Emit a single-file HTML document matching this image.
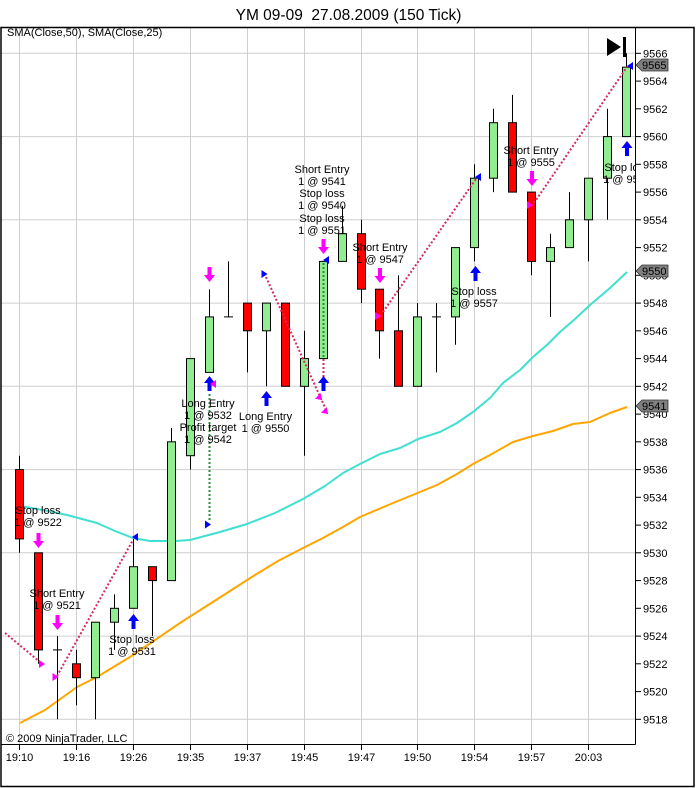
<!DOCTYPE html>
<html><head><meta charset="utf-8"><style>
html,body{margin:0;padding:0;background:#fff;}
svg{display:block;}
text{font-family:"Liberation Sans",Arial,sans-serif;fill:#000;}
.a{font-size:11px;}
.m{font-size:11px;text-anchor:middle;}
.t{white-space:pre;}
</style></head><body>
<svg width="697" height="788" viewBox="0 0 697 788" xmlns="http://www.w3.org/2000/svg">
<defs>
<path id="da" d="M-2,0 h4 v8 h3.5 l-5.5,7 l-5.5,-7 h3.5 z" fill="#ff00ff"/>
<path id="ua" d="M0,0 l5.5,7 h-3.5 v8 h-4 v-8 h-3.5 z" fill="#0000ff"/>
<path id="tl" d="M-3,0 l6,-4 v8 z"/>
<path id="tr" d="M3,0 l-6,-4 v8 z"/>
<clipPath id="pc"><rect x="1" y="27" width="634" height="717"/></clipPath>
</defs>
<rect width="697" height="788" fill="#fff"/>
<text class="t" x="348.5" y="20" font-size="15.5" text-anchor="middle" xml:space="preserve">YM 09-09  27.08.2009 (150 Tick)</text>
<!-- grid -->
<g stroke="#cfcfcf" stroke-width="1">
<line x1="1" x2="635" y1="53.3" y2="53.3"/><line x1="1" x2="635" y1="136.6" y2="136.6"/>
<line x1="1" x2="635" y1="219.8" y2="219.8"/><line x1="1" x2="635" y1="303.1" y2="303.1"/>
<line x1="1" x2="635" y1="386.3" y2="386.3"/><line x1="1" x2="635" y1="469.6" y2="469.6"/>
<line x1="1" x2="635" y1="552.8" y2="552.8"/><line x1="1" x2="635" y1="636.1" y2="636.1"/>
<line x1="1" x2="635" y1="719.3" y2="719.3"/>
<line x1="19.5" x2="19.5" y1="27" y2="744"/><line x1="76.5" x2="76.5" y1="27" y2="744"/>
<line x1="133.5" x2="133.5" y1="27" y2="744"/><line x1="190.5" x2="190.5" y1="27" y2="744"/>
<line x1="247.5" x2="247.5" y1="27" y2="744"/><line x1="304.5" x2="304.5" y1="27" y2="744"/>
<line x1="361.5" x2="361.5" y1="27" y2="744"/><line x1="417.5" x2="417.5" y1="27" y2="744"/>
<line x1="474.5" x2="474.5" y1="27" y2="744"/><line x1="531.5" x2="531.5" y1="27" y2="744"/>
<line x1="588.5" x2="588.5" y1="27" y2="744"/>
</g>
<text class="a" x="7" y="36">SMA(Close,50), SMA(Close,25)</text>
<!-- SMA lines -->
<g fill="none" stroke-width="2" stroke-linejoin="round" clip-path="url(#pc)">
<polyline stroke="#40e0d0" points="20,506 43,510 67,515 97,523 115,531 133,538 150,541 175,541 190,540 220,532 247,524 275,513 303,499 325,486 343,473 360,464 380,454 400,448 418,439 440,432 457,423 473,412 490,398 503,383 520,370 533,357 548,344 560,332 575,319 590,305 610,288 627,272"/>
<polyline stroke="#ffa500" points="20,723 45,710 77,687 97,677 130,657 155,640 180,623 205,607 230,591 255,575 278,561 303,548 323,538 343,527 360,517 393,503 420,492 437,485 457,474 473,464 490,455 513,442 533,436 553,431 573,424 590,422 610,413 627,407"/>
</g>
<!-- candles -->
<g stroke="#000" stroke-width="1">
<line x1="19.5" x2="19.5" y1="455.7" y2="552.8"/><rect x="15.5" y="469.6" width="8" height="69.3" fill="#ff0000"/>
<line x1="38.5" x2="38.5" y1="552.8" y2="663.8"/><rect x="34.5" y="552.8" width="8" height="97.1" fill="#ff0000"/>
<line x1="57.5" x2="57.5" y1="636.1" y2="719.3"/><line x1="53" x2="62" y1="649.9" y2="649.9"/>
<line x1="76.5" x2="76.5" y1="649.9" y2="705.4"/><rect x="72.5" y="663.8" width="8" height="13.9" fill="#ff0000"/>
<line x1="95.5" x2="95.5" y1="622.2" y2="719.3"/><rect x="91.5" y="622.2" width="8" height="55.5" fill="#90ee90"/>
<line x1="114.5" x2="114.5" y1="594.4" y2="649.9"/><rect x="110.5" y="608.3" width="8" height="13.9" fill="#90ee90"/>
<line x1="133.5" x2="133.5" y1="538.9" y2="608.3"/><rect x="129.5" y="566.7" width="8" height="41.6" fill="#90ee90"/>
<line x1="152.5" x2="152.5" y1="566.7" y2="636.1"/><rect x="148.5" y="566.7" width="8" height="13.9" fill="#ff0000"/>
<line x1="171.5" x2="171.5" y1="427.9" y2="580.6"/><rect x="167.5" y="441.8" width="8" height="138.8" fill="#90ee90"/>
<line x1="190.5" x2="190.5" y1="358.6" y2="469.6"/><rect x="186.5" y="358.6" width="8" height="97.1" fill="#90ee90"/>
<line x1="209.5" x2="209.5" y1="289.2" y2="372.4"/><rect x="205.5" y="316.9" width="8" height="55.5" fill="#90ee90"/>
<line x1="228.5" x2="228.5" y1="261.4" y2="316.9"/><line x1="224" x2="233" y1="316.9" y2="316.9"/>
<line x1="247.5" x2="247.5" y1="303.1" y2="372.4"/><rect x="243.5" y="303.1" width="8" height="27.7" fill="#ff0000"/>
<line x1="266.5" x2="266.5" y1="303.1" y2="386.3"/><rect x="262.5" y="303.1" width="8" height="27.7" fill="#90ee90"/>
<line x1="285.5" x2="285.5" y1="303.1" y2="386.3"/><rect x="281.5" y="303.1" width="8" height="83.2" fill="#ff0000"/>
<line x1="304.5" x2="304.5" y1="330.8" y2="455.7"/><rect x="300.5" y="358.6" width="8" height="27.7" fill="#90ee90"/>
<rect x="319.5" y="261.4" width="8" height="97.2" fill="#90ee90"/>
<line x1="342.5" x2="342.5" y1="205.9" y2="261.4"/><rect x="338.5" y="233.7" width="8" height="27.7" fill="#90ee90"/>
<line x1="361.5" x2="361.5" y1="219.8" y2="303.1"/><rect x="357.5" y="233.7" width="8" height="55.5" fill="#ff0000"/>
<line x1="379.5" x2="379.5" y1="289.2" y2="358.6"/><rect x="375.5" y="289.2" width="8" height="41.6" fill="#ff0000"/>
<line x1="398.5" x2="398.5" y1="275.3" y2="386.3"/><rect x="394.5" y="330.8" width="8" height="55.5" fill="#ff0000"/>
<line x1="417.5" x2="417.5" y1="303.1" y2="386.3"/><rect x="413.5" y="316.9" width="8" height="69.4" fill="#90ee90"/>
<line x1="436.5" x2="436.5" y1="303.1" y2="372.4"/><line x1="432" x2="441" y1="316.9" y2="316.9"/>
<line x1="455.5" x2="455.5" y1="247.6" y2="344.7"/><rect x="451.5" y="247.6" width="8" height="69.3" fill="#90ee90"/>
<line x1="474.5" x2="474.5" y1="164.3" y2="261.4"/><rect x="470.5" y="178.2" width="8" height="69.4" fill="#90ee90"/>
<line x1="493.5" x2="493.5" y1="108.8" y2="192.1"/><rect x="489.5" y="122.7" width="8" height="55.5" fill="#90ee90"/>
<line x1="512.5" x2="512.5" y1="94.9" y2="192.1"/><rect x="508.5" y="122.7" width="8" height="69.4" fill="#ff0000"/>
<line x1="531.5" x2="531.5" y1="192.1" y2="275.3"/><rect x="527.5" y="192.1" width="8" height="69.3" fill="#ff0000"/>
<line x1="550.5" x2="550.5" y1="233.7" y2="316.9"/><rect x="546.5" y="247.6" width="8" height="13.8" fill="#90ee90"/>
<line x1="569.5" x2="569.5" y1="192.1" y2="247.6"/><rect x="565.5" y="219.8" width="8" height="27.8" fill="#90ee90"/>
<line x1="588.5" x2="588.5" y1="178.2" y2="261.4"/><rect x="584.5" y="178.2" width="8" height="41.6" fill="#90ee90"/>
<line x1="607.5" x2="607.5" y1="108.8" y2="219.8"/><rect x="603.5" y="136.6" width="8" height="41.6" fill="#90ee90"/>
<line x1="626.5" x2="626.5" y1="53.3" y2="136.6"/><rect x="622.5" y="67.2" width="8" height="69.4" fill="#90ee90"/>
</g>
<!-- dotted trade lines -->
<g fill="none" stroke-width="2" stroke-dasharray="2 2">
<g stroke="#d42a5e">
<line x1="5" y1="633" x2="40" y2="662"/>
<line x1="57" y1="676" x2="133" y2="540"/>
<line x1="266" y1="277" x2="327" y2="412"/>
<line x1="323.5" y1="359" x2="323.5" y2="378"/>
<line x1="383" y1="312" x2="476" y2="179"/>
<line x1="534" y1="203" x2="627" y2="67"/>
</g>
<g stroke="#2e8b3a">
<line x1="209.5" y1="394" x2="209.5" y2="521"/>
<line x1="323.5" y1="263" x2="323.5" y2="357"/>
</g>
</g>
<!-- markers -->
<use href="#da" x="38.5" y="533"/>
<use href="#da" x="57.5" y="615"/>
<use href="#da" x="209.5" y="267"/>
<use href="#da" x="323.5" y="239"/>
<use href="#da" x="380" y="268"/>
<use href="#da" x="532" y="171"/>
<use href="#ua" x="133.5" y="614"/>
<use href="#ua" x="209.5" y="376"/>
<use href="#ua" x="266.5" y="391"/>
<use href="#ua" x="323.5" y="376"/>
<use href="#ua" x="475.5" y="266"/>
<use href="#ua" x="627" y="141"/>
<g fill="#ff00ff">
<use href="#tr" x="42" y="664"/>
<use href="#tr" x="55.5" y="677"/>
<use href="#tl" x="213" y="384"/>
<use href="#tr" transform="translate(320,398) rotate(45)"/>
<use href="#tr" transform="translate(326,412) rotate(45)"/>
<use href="#tr" x="378" y="316"/>
<use href="#tr" x="530" y="205"/>
</g>
<g fill="#0000ff">
<use href="#tl" x="135" y="537"/>
<use href="#tr" x="208" y="524.5"/>
<use href="#tr" x="264.5" y="274"/>
<use href="#tl" x="326" y="260"/>
<use href="#tl" x="478" y="177"/>
<use href="#tl" x="630" y="66"/>
</g>
<!-- annotation texts -->
<text class="m" x="38" y="514">Stop loss</text><text class="m" x="38" y="526">1 @ 9522</text>
<text class="m" x="57" y="597">Short Entry</text><text class="m" x="57" y="609">1 @ 9521</text>
<text class="m" x="132" y="643">Stop loss</text><text class="m" x="132" y="655">1 @ 9531</text>
<text class="m" x="208" y="407">Long Entry</text><text class="m" x="208" y="419">1 @ 9532</text>
<text class="m" x="208" y="431">Profit target</text><text class="m" x="208" y="443">1 @ 9542</text>
<text class="m" x="265.5" y="420">Long Entry</text><text class="m" x="265.5" y="432">1 @ 9550</text>
<text class="m" x="322" y="173">Short Entry</text><text class="m" x="322" y="185">1 @ 9541</text>
<text class="m" x="322" y="197">Stop loss</text><text class="m" x="322" y="209">1 @ 9540</text>
<text class="m" x="322" y="222">Stop loss</text><text class="m" x="322" y="234">1 @ 9551</text>
<text class="m" x="380" y="251">Short Entry</text><text class="m" x="380" y="263">1 @ 9547</text>
<text class="m" x="474" y="295">Stop loss</text><text class="m" x="474" y="307">1 @ 9557</text>
<text class="m" x="531" y="154">Short Entry</text><text class="m" x="531" y="166">1 @ 9555</text>
<g clip-path="url(#pc)"><text class="m" x="627" y="171">Stop loss</text><text class="m" x="627" y="183">1 @ 9560</text></g>
<!-- top right icon -->
<polygon points="607,38 621,47 607,56" fill="#000"/>
<rect x="623" y="37" width="3" height="20" fill="#000"/>
<text class="a" x="6" y="742">© 2009 NinjaTrader, LLC</text>
<!-- axes -->
<g stroke="#000" stroke-width="1">
<line x1="635.5" y1="27" x2="635.5" y2="744.5"/>
<line x1="1" y1="744.5" x2="635.5" y2="744.5"/>
<line x1="19.5" x2="19.5" y1="744" y2="750"/><line x1="76.5" x2="76.5" y1="744" y2="750"/>
<line x1="133.5" x2="133.5" y1="744" y2="750"/><line x1="190.5" x2="190.5" y1="744" y2="750"/>
<line x1="247.5" x2="247.5" y1="744" y2="750"/><line x1="304.5" x2="304.5" y1="744" y2="750"/>
<line x1="361.5" x2="361.5" y1="744" y2="750"/><line x1="417.5" x2="417.5" y1="744" y2="750"/>
<line x1="474.5" x2="474.5" y1="744" y2="750"/><line x1="531.5" x2="531.5" y1="744" y2="750"/>
<line x1="588.5" x2="588.5" y1="744" y2="750"/>
<line x1="635" x2="641" y1="53.3" y2="53.3"/><line x1="635" x2="641" y1="81.1" y2="81.1"/>
<line x1="635" x2="641" y1="108.8" y2="108.8"/><line x1="635" x2="641" y1="136.6" y2="136.6"/>
<line x1="635" x2="641" y1="164.3" y2="164.3"/><line x1="635" x2="641" y1="192.1" y2="192.1"/>
<line x1="635" x2="641" y1="219.8" y2="219.8"/><line x1="635" x2="641" y1="247.6" y2="247.6"/>
<line x1="635" x2="641" y1="275.3" y2="275.3"/><line x1="635" x2="641" y1="303.1" y2="303.1"/>
<line x1="635" x2="641" y1="330.8" y2="330.8"/><line x1="635" x2="641" y1="358.6" y2="358.6"/>
<line x1="635" x2="641" y1="386.3" y2="386.3"/><line x1="635" x2="641" y1="414.1" y2="414.1"/>
<line x1="635" x2="641" y1="441.8" y2="441.8"/><line x1="635" x2="641" y1="469.6" y2="469.6"/>
<line x1="635" x2="641" y1="497.3" y2="497.3"/><line x1="635" x2="641" y1="525.1" y2="525.1"/>
<line x1="635" x2="641" y1="552.8" y2="552.8"/><line x1="635" x2="641" y1="580.6" y2="580.6"/>
<line x1="635" x2="641" y1="608.3" y2="608.3"/><line x1="635" x2="641" y1="636.1" y2="636.1"/>
<line x1="635" x2="641" y1="663.8" y2="663.8"/><line x1="635" x2="641" y1="691.6" y2="691.6"/>
<line x1="635" x2="641" y1="719.3" y2="719.3"/>
</g>
<g>
<text class="a" x="643" y="57.3">9566</text><text class="a" x="643" y="85.1">9564</text>
<text class="a" x="643" y="112.8">9562</text><text class="a" x="643" y="140.6">9560</text>
<text class="a" x="643" y="168.3">9558</text><text class="a" x="643" y="196.1">9556</text>
<text class="a" x="643" y="223.8">9554</text><text class="a" x="643" y="251.6">9552</text>
<text class="a" x="643" y="279.3">9550</text><text class="a" x="643" y="307.1">9548</text>
<text class="a" x="643" y="334.8">9546</text><text class="a" x="643" y="362.6">9544</text>
<text class="a" x="643" y="390.3">9542</text><text class="a" x="643" y="418.1">9540</text>
<text class="a" x="643" y="445.8">9538</text><text class="a" x="643" y="473.6">9536</text>
<text class="a" x="643" y="501.3">9534</text><text class="a" x="643" y="529.1">9532</text>
<text class="a" x="643" y="556.8">9530</text><text class="a" x="643" y="584.6">9528</text>
<text class="a" x="643" y="612.3">9526</text><text class="a" x="643" y="640.1">9524</text>
<text class="a" x="643" y="667.8">9522</text><text class="a" x="643" y="695.6">9520</text>
<text class="a" x="643" y="723.3">9518</text>
</g>
<!-- value flags -->
<g stroke="#333" stroke-width="0.8" fill="#808080">
<polygon points="636,65 642,59 668,59 668,71 642,71"/>
<polygon points="636,271 642,265 668,265 668,277 642,277"/>
<polygon points="636,406 642,400 668,400 668,412 642,412"/>
</g>
<text class="a" x="642" y="69">9565</text>
<text class="a" x="642" y="275">9550</text>
<text class="a" x="642" y="410">9541</text>
<!-- time labels -->
<g>
<text class="m" x="19.5" y="761">19:10</text><text class="m" x="76.5" y="761">19:16</text>
<text class="m" x="133.5" y="761">19:26</text><text class="m" x="190.5" y="761">19:35</text>
<text class="m" x="247.5" y="761">19:37</text><text class="m" x="304.5" y="761">19:45</text>
<text class="m" x="361.5" y="761">19:47</text><text class="m" x="417.5" y="761">19:50</text>
<text class="m" x="474.5" y="761">19:54</text><text class="m" x="531.5" y="761">19:57</text>
<text class="m" x="588.5" y="761">20:03</text>
</g>
<!-- frame -->
<rect x="1" y="27.5" width="693" height="759" fill="none" stroke="#000" stroke-width="1.5"/>
</svg>
</body></html>
